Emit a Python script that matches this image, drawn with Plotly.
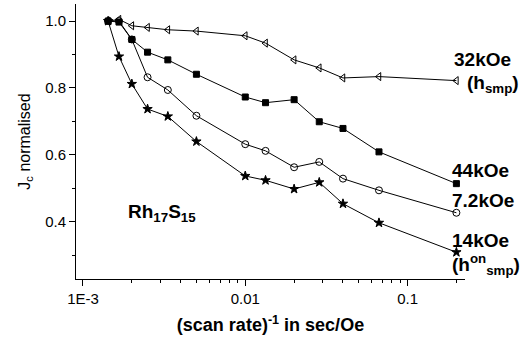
import plotly.graph_objects as go

x_inv_rate = [1/700, 1/600, 1/500, 1/400, 1/300, 1/200, 1/100, 1/75, 1/50, 1/35, 1/25, 1/15, 1/5]

jc_32k = [1.0, 1.005, 0.986, 0.981, 0.974, 0.970, 0.956, 0.934, 0.884, 0.860, 0.830, 0.834, 0.822]
jc_44k = [1.0, 0.997, 0.945, 0.907, 0.884, 0.841, 0.773, 0.756, 0.765, 0.699, 0.679, 0.609, 0.514]
jc_7k2 = [1.0, 1.0, 0.945, 0.832, 0.794, 0.717, 0.632, 0.612, 0.563, 0.579, 0.529, 0.494, 0.427]
jc_14k = [1.0, 0.894, 0.812, 0.737, 0.715, 0.640, 0.537, 0.524, 0.498, 0.518, 0.454, 0.397, 0.309]

series = [
    ("32kOe", jc_32k, "triangle-left-open", 7),
    ("44kOe", jc_44k, "square", 6),
    ("7.2kOe", jc_7k2, "circle-open", 7),
    ("14kOe", jc_14k, "star", 7),
]

FONT = "Liberation Sans, Arial, sans-serif"

fig = go.Figure()
for name, yv, sym, sz in series:
    fig.add_trace(go.Scatter(
        x=x_inv_rate, y=yv, mode="lines+markers", name=name,
        line=dict(color="black", width=1),
        marker=dict(symbol=sym, size=sz, color="black",
                    line=dict(color="black", width=1)),
        showlegend=False,
    ))

minor_x = [m * 10**e for e in (-3, -2, -1) for m in range(2, 10) if m * 10**e < 0.23]

fig.update_xaxes(
    type="log", range=[-3.043, -0.646],
    tickvals=[0.001, 0.01, 0.1], ticktext=["1E-3", "0.01", "0.1"],
    ticks="outside", ticklen=6, tickwidth=1, tickcolor="black",
    showline=True, linecolor="black", linewidth=1, showgrid=False, zeroline=False,
    minor=dict(tickvals=minor_x, ticks="outside", ticklen=3, tickcolor="black", showgrid=False),
    tickfont=dict(size=15, color="black", family=FONT),
    title=dict(text="<b>(scan rate)<sup>-1</sup> in sec/Oe</b>", font=dict(size=18, color="black", family=FONT), standoff=12),
)
fig.update_yaxes(
    range=[0.229, 1.051],
    tickvals=[0.4, 0.6, 0.8, 1.0], ticktext=["0.4", "0.6", "0.8", "1.0"],
    ticks="outside", ticklen=6, tickwidth=1, tickcolor="black",
    showline=True, linecolor="black", linewidth=1, showgrid=False, zeroline=False,
    minor=dict(tickvals=[0.3, 0.5, 0.7, 0.9], ticks="outside", ticklen=3, tickcolor="black", showgrid=False),
    tickfont=dict(size=15, color="black", family=FONT),
    title=dict(text="J<sub>c</sub> normalised", font=dict(size=16, color="black", family=FONT), standoff=10),
)

ann_font = dict(size=19, color="black", family=FONT)
annots = [
    ("<b>32kOe</b>", 452, 60),
    ("<b>(h<sub>smp</sub>)</b>", 465, 84),
    ("<b>44kOe</b>", 450, 170),
    ("<b>7.2kOe</b>", 450, 200),
    ("<b>14kOe</b>", 450, 240),
    ("<b>(h<sup>on</sup><sub>smp</sub>)</b>", 450, 264),
]
for txt, px, py in annots:
    fig.add_annotation(xref="paper", yref="paper", x=(px - 76) / 389, y=1 - (py - 4) / 275,
                       text=txt, showarrow=False, xanchor="left", yanchor="middle", font=ann_font)
fig.add_annotation(xref="paper", yref="paper", x=(126 - 76) / 389, y=1 - (213 - 4) / 275,
                   text="<b>Rh<sub>17</sub>S<sub>15</sub></b>", showarrow=False,
                   xanchor="left", yanchor="middle", font=ann_font)

fig.update_layout(
    width=531, height=342,
    margin=dict(l=76, r=66, t=4, b=63),
    paper_bgcolor="white", plot_bgcolor="white",
    font=dict(family=FONT, color="black"),
)

fig.write_html("out.html")
